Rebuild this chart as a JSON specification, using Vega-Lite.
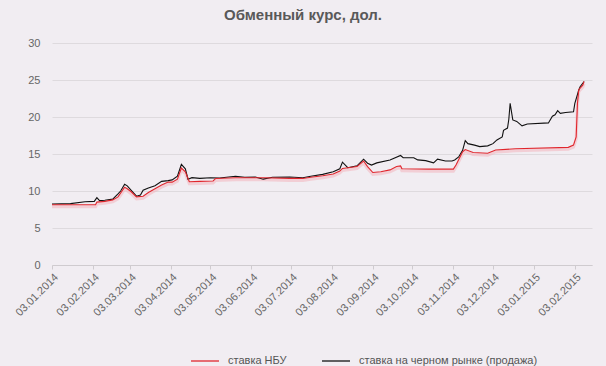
{
  "$schema": "https://vega.github.io/schema/vega-lite/v6.json",
  "width": 540,
  "height": 222,
  "autosize": "none",
  "padding": {"left": 52, "top": 43, "right": 14, "bottom": 101},
  "background": "#f1edf2",
  "title": {"text": "Обменный курс, дол.", "font": "Liberation Sans", "fontSize": 15, "fontWeight": "bold", "color": "#595959", "anchor": "middle", "dx": -19, "offset": 14},
  "config": {
    "view": {"stroke": null},
    "axis": {"labelFont": "Liberation Sans", "labelFontSize": 11, "labelColor": "#666666", "titleFont": "Liberation Sans"},
    "legend": {"labelFont": "Liberation Sans", "labelFontSize": 11, "labelColor": "#555555"}
  },
  "datasets": {
    "rates": [
      {"date": "2014-01-03", "series": "ставка на черном рынке (продажа)", "value": 8.25},
      {"date": "2014-01-17", "series": "ставка на черном рынке (продажа)", "value": 8.3},
      {"date": "2014-01-28", "series": "ставка на черном рынке (продажа)", "value": 8.55},
      {"date": "2014-02-04", "series": "ставка на черном рынке (продажа)", "value": 8.6},
      {"date": "2014-02-06", "series": "ставка на черном рынке (продажа)", "value": 9.1},
      {"date": "2014-02-08", "series": "ставка на черном рынке (продажа)", "value": 8.7},
      {"date": "2014-02-12", "series": "ставка на черном рынке (продажа)", "value": 8.75},
      {"date": "2014-02-18", "series": "ставка на черном рынке (продажа)", "value": 8.9},
      {"date": "2014-02-22", "series": "ставка на черном рынке (продажа)", "value": 9.6},
      {"date": "2014-02-24", "series": "ставка на черном рынке (продажа)", "value": 10.0},
      {"date": "2014-02-27", "series": "ставка на черном рынке (продажа)", "value": 10.9},
      {"date": "2014-03-01", "series": "ставка на черном рынке (продажа)", "value": 10.7},
      {"date": "2014-03-04", "series": "ставка на черном рынке (продажа)", "value": 10.1},
      {"date": "2014-03-08", "series": "ставка на черном рынке (продажа)", "value": 9.3},
      {"date": "2014-03-11", "series": "ставка на черном рынке (продажа)", "value": 9.45},
      {"date": "2014-03-13", "series": "ставка на черном рынке (продажа)", "value": 10.1},
      {"date": "2014-03-17", "series": "ставка на черном рынке (продажа)", "value": 10.4},
      {"date": "2014-03-22", "series": "ставка на черном рынке (продажа)", "value": 10.7},
      {"date": "2014-03-27", "series": "ставка на черном рынке (продажа)", "value": 11.3},
      {"date": "2014-04-01", "series": "ставка на черном рынке (продажа)", "value": 11.4},
      {"date": "2014-04-04", "series": "ставка на черном рынке (продажа)", "value": 11.5},
      {"date": "2014-04-08", "series": "ставка на черном рынке (продажа)", "value": 12.0},
      {"date": "2014-04-11", "series": "ставка на черном рынке (продажа)", "value": 13.6},
      {"date": "2014-04-14", "series": "ставка на черном рынке (продажа)", "value": 13.0},
      {"date": "2014-04-16", "series": "ставка на черном рынке (продажа)", "value": 11.6},
      {"date": "2014-04-19", "series": "ставка на черном рынке (продажа)", "value": 11.8},
      {"date": "2014-04-25", "series": "ставка на черном рынке (продажа)", "value": 11.7},
      {"date": "2014-05-03", "series": "ставка на черном рынке (продажа)", "value": 11.8},
      {"date": "2014-05-10", "series": "ставка на черном рынке (продажа)", "value": 11.75},
      {"date": "2014-05-22", "series": "ставка на черном рынке (продажа)", "value": 12.0},
      {"date": "2014-05-29", "series": "ставка на черном рынке (продажа)", "value": 11.85},
      {"date": "2014-06-06", "series": "ставка на черном рынке (продажа)", "value": 11.9},
      {"date": "2014-06-12", "series": "ставка на черном рынке (продажа)", "value": 11.6},
      {"date": "2014-06-19", "series": "ставка на черном рынке (продажа)", "value": 11.85},
      {"date": "2014-07-02", "series": "ставка на черном рынке (продажа)", "value": 11.9},
      {"date": "2014-07-12", "series": "ставка на черном рынке (продажа)", "value": 11.8},
      {"date": "2014-07-18", "series": "ставка на черном рынке (продажа)", "value": 12.0},
      {"date": "2014-07-27", "series": "ставка на черном рынке (продажа)", "value": 12.25},
      {"date": "2014-08-04", "series": "ставка на черном рынке (продажа)", "value": 12.6},
      {"date": "2014-08-09", "series": "ставка на черном рынке (продажа)", "value": 13.0},
      {"date": "2014-08-11", "series": "ставка на черном рынке (продажа)", "value": 13.9},
      {"date": "2014-08-15", "series": "ставка на черном рынке (продажа)", "value": 13.15},
      {"date": "2014-08-22", "series": "ставка на черном рынке (продажа)", "value": 13.4},
      {"date": "2014-08-27", "series": "ставка на черном рынке (продажа)", "value": 14.3},
      {"date": "2014-08-30", "series": "ставка на черном рынке (продажа)", "value": 13.75},
      {"date": "2014-09-02", "series": "ставка на черном рынке (продажа)", "value": 13.5},
      {"date": "2014-09-06", "series": "ставка на черном рынке (продажа)", "value": 13.8},
      {"date": "2014-09-16", "series": "ставка на черном рынке (продажа)", "value": 14.2},
      {"date": "2014-09-24", "series": "ставка на черном рынке (продажа)", "value": 14.8},
      {"date": "2014-09-26", "series": "ставка на черном рынке (продажа)", "value": 14.5},
      {"date": "2014-10-04", "series": "ставка на черном рынке (продажа)", "value": 14.5},
      {"date": "2014-10-07", "series": "ставка на черном рынке (продажа)", "value": 14.2},
      {"date": "2014-10-13", "series": "ставка на черном рынке (продажа)", "value": 14.1},
      {"date": "2014-10-19", "series": "ставка на черном рынке (продажа)", "value": 13.8},
      {"date": "2014-10-22", "series": "ставка на черном рынке (продажа)", "value": 14.3},
      {"date": "2014-10-28", "series": "ставка на черном рынке (продажа)", "value": 14.05},
      {"date": "2014-11-02", "series": "ставка на черном рынке (продажа)", "value": 14.05},
      {"date": "2014-11-04", "series": "ставка на черном рынке (продажа)", "value": 14.2},
      {"date": "2014-11-07", "series": "ставка на черном рынке (продажа)", "value": 14.6},
      {"date": "2014-11-10", "series": "ставка на черном рынке (продажа)", "value": 15.5},
      {"date": "2014-11-12", "series": "ставка на черном рынке (продажа)", "value": 16.8},
      {"date": "2014-11-14", "series": "ставка на черном рынке (продажа)", "value": 16.4},
      {"date": "2014-11-19", "series": "ставка на черном рынке (продажа)", "value": 16.2},
      {"date": "2014-11-23", "series": "ставка на черном рынке (продажа)", "value": 16.0},
      {"date": "2014-11-29", "series": "ставка на черном рынке (продажа)", "value": 16.1},
      {"date": "2014-12-03", "series": "ставка на черном рынке (продажа)", "value": 16.4},
      {"date": "2014-12-06", "series": "ставка на черном рынке (продажа)", "value": 16.9},
      {"date": "2014-12-10", "series": "ставка на черном рынке (продажа)", "value": 17.3},
      {"date": "2014-12-11", "series": "ставка на черном рынке (продажа)", "value": 18.2},
      {"date": "2014-12-14", "series": "ставка на черном рынке (продажа)", "value": 18.5},
      {"date": "2014-12-15", "series": "ставка на черном рынке (продажа)", "value": 19.7},
      {"date": "2014-12-16", "series": "ставка на черном рынке (продажа)", "value": 21.85},
      {"date": "2014-12-18", "series": "ставка на черном рынке (продажа)", "value": 19.6},
      {"date": "2014-12-21", "series": "ставка на черном рынке (продажа)", "value": 19.4},
      {"date": "2014-12-25", "series": "ставка на черном рынке (продажа)", "value": 18.8},
      {"date": "2014-12-29", "series": "ставка на черном рынке (продажа)", "value": 19.05},
      {"date": "2015-01-14", "series": "ставка на черном рынке (продажа)", "value": 19.2},
      {"date": "2015-01-17", "series": "ставка на черном рынке (продажа)", "value": 20.1},
      {"date": "2015-01-19", "series": "ставка на черном рынке (продажа)", "value": 20.3},
      {"date": "2015-01-21", "series": "ставка на черном рынке (продажа)", "value": 20.85},
      {"date": "2015-01-23", "series": "ставка на черном рынке (продажа)", "value": 20.5},
      {"date": "2015-01-27", "series": "ставка на черном рынке (продажа)", "value": 20.6},
      {"date": "2015-02-02", "series": "ставка на черном рынке (продажа)", "value": 20.7},
      {"date": "2015-02-03", "series": "ставка на черном рынке (продажа)", "value": 21.85},
      {"date": "2015-02-06", "series": "ставка на черном рынке (продажа)", "value": 23.65},
      {"date": "2015-02-07", "series": "ставка на черном рынке (продажа)", "value": 24.1},
      {"date": "2015-02-10", "series": "ставка на черном рынке (продажа)", "value": 24.8},
      {"date": "2014-01-03", "series": "ставка НБУ", "value": 8.15},
      {"date": "2014-02-05", "series": "ставка НБУ", "value": 8.15},
      {"date": "2014-02-06", "series": "ставка НБУ", "value": 8.5},
      {"date": "2014-02-12", "series": "ставка НБУ", "value": 8.6},
      {"date": "2014-02-18", "series": "ставка НБУ", "value": 8.8},
      {"date": "2014-02-22", "series": "ставка НБУ", "value": 9.2},
      {"date": "2014-02-27", "series": "ставка НБУ", "value": 10.5},
      {"date": "2014-03-01", "series": "ставка НБУ", "value": 10.3},
      {"date": "2014-03-04", "series": "ставка НБУ", "value": 9.9},
      {"date": "2014-03-08", "series": "ставка НБУ", "value": 9.2},
      {"date": "2014-03-13", "series": "ставка НБУ", "value": 9.3},
      {"date": "2014-03-17", "series": "ставка НБУ", "value": 9.8},
      {"date": "2014-03-22", "series": "ставка НБУ", "value": 10.3},
      {"date": "2014-03-27", "series": "ставка НБУ", "value": 10.8},
      {"date": "2014-04-01", "series": "ставка НБУ", "value": 11.2},
      {"date": "2014-04-04", "series": "ставка НБУ", "value": 11.2},
      {"date": "2014-04-08", "series": "ставка НБУ", "value": 11.6},
      {"date": "2014-04-11", "series": "ставка НБУ", "value": 13.1},
      {"date": "2014-04-14", "series": "ставка НБУ", "value": 12.6},
      {"date": "2014-04-17", "series": "ставка НБУ", "value": 11.25},
      {"date": "2014-04-25", "series": "ставка НБУ", "value": 11.3},
      {"date": "2014-05-05", "series": "ставка НБУ", "value": 11.35},
      {"date": "2014-05-07", "series": "ставка НБУ", "value": 11.7},
      {"date": "2014-05-22", "series": "ставка НБУ", "value": 11.8},
      {"date": "2014-06-12", "series": "ставка НБУ", "value": 11.8},
      {"date": "2014-07-02", "series": "ставка НБУ", "value": 11.7},
      {"date": "2014-07-12", "series": "ставка НБУ", "value": 11.7},
      {"date": "2014-07-18", "series": "ставка НБУ", "value": 11.85},
      {"date": "2014-07-27", "series": "ставка НБУ", "value": 12.07},
      {"date": "2014-08-04", "series": "ставка НБУ", "value": 12.3},
      {"date": "2014-08-09", "series": "ставка НБУ", "value": 12.7},
      {"date": "2014-08-11", "series": "ставка НБУ", "value": 13.05},
      {"date": "2014-08-22", "series": "ставка НБУ", "value": 13.3},
      {"date": "2014-08-27", "series": "ставка НБУ", "value": 14.05},
      {"date": "2014-08-30", "series": "ставка НБУ", "value": 13.3},
      {"date": "2014-09-03", "series": "ставка НБУ", "value": 12.5},
      {"date": "2014-09-09", "series": "ставка НБУ", "value": 12.6},
      {"date": "2014-09-16", "series": "ставка НБУ", "value": 12.85},
      {"date": "2014-09-21", "series": "ставка НБУ", "value": 13.3},
      {"date": "2014-09-24", "series": "ставка НБУ", "value": 13.4},
      {"date": "2014-09-25", "series": "ставка НБУ", "value": 13.0},
      {"date": "2014-10-15", "series": "ставка НБУ", "value": 12.95},
      {"date": "2014-11-03", "series": "ставка НБУ", "value": 12.95},
      {"date": "2014-11-05", "series": "ставка НБУ", "value": 13.5},
      {"date": "2014-11-10", "series": "ставка НБУ", "value": 15.3},
      {"date": "2014-11-12", "series": "ставка НБУ", "value": 15.6},
      {"date": "2014-11-18", "series": "ставка НБУ", "value": 15.2},
      {"date": "2014-11-29", "series": "ставка НБУ", "value": 15.1},
      {"date": "2014-12-05", "series": "ставка НБУ", "value": 15.55},
      {"date": "2014-12-20", "series": "ставка НБУ", "value": 15.7},
      {"date": "2015-01-29", "series": "ставка НБУ", "value": 15.9},
      {"date": "2015-02-02", "series": "ставка НБУ", "value": 16.2},
      {"date": "2015-02-04", "series": "ставка НБУ", "value": 17.3},
      {"date": "2015-02-05", "series": "ставка НБУ", "value": 21.85},
      {"date": "2015-02-06", "series": "ставка НБУ", "value": 23.7},
      {"date": "2015-02-09", "series": "ставка НБУ", "value": 24.3},
      {"date": "2015-02-10", "series": "ставка НБУ", "value": 24.8}
    ]
  },
  "data": {"name": "rates", "format": {"parse": {"date": "date:'%Y-%m-%d'"}}},
  "encoding": {
    "x": {
      "field": "date", "type": "temporal",
      "scale": {"domain": [{"year": 2014, "month": 1, "date": 3}, {"year": 2015, "month": 2, "date": 16}]},
      "axis": {
        "title": null, "format": "%d.%m.%Y", "labelAngle": -45, "labelAlign": "right", "labelBaseline": "top",
        "grid": false, "domainColor": "#cfcbcf", "tickColor": "#cfcbcf", "tickSize": 4, "labelPadding": 2,
        "labelOverlap": false,
        "values": [
          {"year": 2014, "month": 1, "date": 3}, {"year": 2014, "month": 2, "date": 3}, {"year": 2014, "month": 3, "date": 3},
          {"year": 2014, "month": 4, "date": 3}, {"year": 2014, "month": 5, "date": 3}, {"year": 2014, "month": 6, "date": 3},
          {"year": 2014, "month": 7, "date": 3}, {"year": 2014, "month": 8, "date": 3}, {"year": 2014, "month": 9, "date": 3},
          {"year": 2014, "month": 10, "date": 3}, {"year": 2014, "month": 11, "date": 3}, {"year": 2014, "month": 12, "date": 3},
          {"year": 2015, "month": 1, "date": 3}, {"year": 2015, "month": 2, "date": 3}
        ]
      }
    },
    "y": {
      "field": "value", "type": "quantitative",
      "scale": {"domain": [0, 30]},
      "axis": {"title": null, "values": [0, 5, 10, 15, 20, 25, 30], "domain": false, "ticks": false, "labelPadding": 12, "gridColor": "#dedade"}
    }
  },
  "layer": [
    {
      "transform": [{"filter": "datum.series === 'ставка НБУ'"}],
      "mark": {"type": "line", "color": "#f3b9c2", "strokeWidth": 3, "opacity": 0.6, "yOffset": 2},
      "encoding": {}
    },
    {
      "mark": {"type": "line", "strokeWidth": 1.1},
      "encoding": {
        "color": {
          "field": "series", "type": "nominal",
          "scale": {"domain": ["ставка НБУ", "ставка на черном рынке (продажа)"], "range": ["#e0262d", "#111111"]},
          "legend": {
            "title": null, "orient": "none", "legendX": 138, "legendY": 303, "direction": "horizontal",
            "symbolType": "stroke", "symbolSize": 784, "symbolStrokeWidth": 1.3, "columnPadding": 32, "labelOffset": 8,
            "labelLimit": 400
          }
        }
      }
    }
  ]
}
